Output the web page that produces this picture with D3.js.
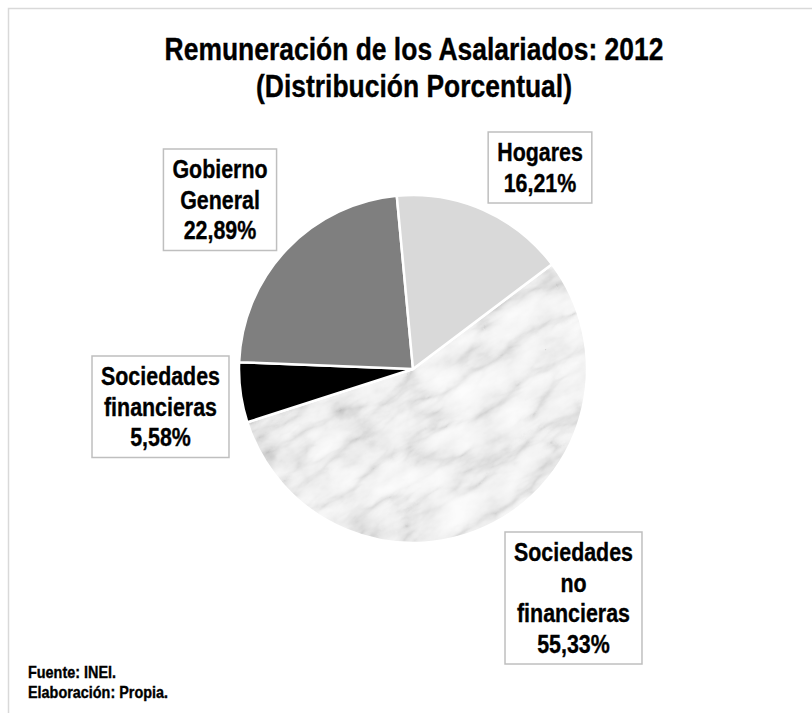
<!DOCTYPE html>
<html>
<head>
<meta charset="utf-8">
<script src="https://cdn.jsdelivr.net/npm/d3@7"></script>
<style>
  body { margin: 0; background: #fff; }
  svg text { font-family: 'Liberation Sans', Arial, sans-serif; font-weight: bold; fill: #000; stroke: #000; stroke-width: 0.35px; }
</style>
</head>
<body>
<div id="chart"></div>
<script>
// Data
const categorias = ["Sociedades no financieras", "Sociedades financieras", "Gobierno General", "Hogares"];
const porcentajes = [55.33, 5.58, 22.89, 16.21];
const etiquetas = [
    ["Sociedades", "no", "financieras"],
    ["Sociedades", "financieras"],
    ["Gobierno", "General"],
    ["Hogares"]
];
const colores = ["marble", "#000000", "#7f7f7f", "#d9d9d9"];
const titulo = ["Remuneración de los Asalariados: 2012", "(Distribución Porcentual)"];
const notas = ["Fuente: INEI.", "Elaboración: Propia."];

// Label box placement (center x, top y)
const cajas = [
    { cx: 573.5, top: 532 },
    { cx: 160.5, top: 356 },
    { cx: 220, top: 149 },
    { cx: 540, top: 132 }
];

const width = 812, height = 713;
const cx = 413, cy = 369, radius = 174;
const lineH = 30.5, pad = 5;
const narrow = 0.84; // Arial Narrow look

const svg = d3.select("#chart").append("svg")
    .attr("width", width)
    .attr("height", height);

// Chart area border (only top and left visible)
svg.append("path")
    .attr("d", `M8.5,${height} V8.5 H${width}`)
    .attr("fill", "none")
    .attr("stroke", "#d9d9d9")
    .attr("stroke-width", 1.5);

// Marble texture: soft clouds x thin veins
const defs = svg.append("defs");
const filter = defs.append("filter")
    .attr("id", "marmol");
filter.append("feTurbulence")
    .attr("type", "fractalNoise")
    .attr("baseFrequency", "0.02 0.035")
    .attr("numOctaves", 5)
    .attr("seed", 3)
    .attr("result", "nube");
filter.append("feColorMatrix")
    .attr("in", "nube")
    .attr("type", "matrix")
    .attr("values", "1 0 0 0 0  1 0 0 0 0  1 0 0 0 0  0 0 0 0 1")
    .attr("result", "nubeGris");
const ct1 = filter.append("feComponentTransfer").attr("in", "nubeGris").attr("result", "base");
["feFuncR", "feFuncG", "feFuncB"].forEach(f =>
    ct1.append(f).attr("type", "table")
        .attr("tableValues", "0.6 0.7 0.82 0.89 0.93 0.96 0.98 0.99"));
filter.append("feTurbulence")
    .attr("type", "turbulence")
    .attr("baseFrequency", "0.012 0.03")
    .attr("numOctaves", 4)
    .attr("seed", 11)
    .attr("result", "vena");
filter.append("feColorMatrix")
    .attr("in", "vena")
    .attr("type", "matrix")
    .attr("values", "1 0 0 0 0  1 0 0 0 0  1 0 0 0 0  0 0 0 0 1")
    .attr("result", "venaGris");
const ct2 = filter.append("feComponentTransfer").attr("in", "venaGris").attr("result", "venas");
["feFuncR", "feFuncG", "feFuncB"].forEach(f =>
    ct2.append(f).attr("type", "table")
        .attr("tableValues", "0.72 0.86 0.95 0.99 1 1 1 1"));
filter.append("feComposite")
    .attr("in", "base").attr("in2", "venas")
    .attr("operator", "arithmetic")
    .attr("k1", 1).attr("k2", 0).attr("k3", 0).attr("k4", 0);

const pie = d3.pie()
    .sort(null)
    .value(d => d)
    .startAngle(53 * Math.PI / 180)
    .endAngle(53 * Math.PI / 180 + 2 * Math.PI);

const arc = d3.arc().innerRadius(0).outerRadius(radius);
const arcs = pie(porcentajes);

const g = svg.append("g").attr("transform", `translate(${cx},${cy})`);

// Clip for marble slice
defs.append("clipPath").attr("id", "clipMarmol")
  .append("path")
    .attr("d", arc(arcs[0]));

g.append("g")
    .attr("clip-path", "url(#clipMarmol)")
  .append("rect")
    .attr("x", -radius - 60).attr("y", -radius - 60)
    .attr("width", 2 * radius + 120).attr("height", 2 * radius + 120)
    .attr("fill", "#eee")
    .attr("filter", "url(#marmol)")
    .attr("transform", "rotate(-30)");

g.selectAll(".slice")
    .data(arcs)
  .enter().append("path")
    .attr("class", "slice")
    .attr("d", arc)
    .attr("fill", (d, i) => colores[i] === "marble" ? "none" : colores[i])
    .attr("stroke", "#fff")
    .attr("stroke-width", 2.5)
    .attr("stroke-linejoin", "round");

// Multi-line narrow text centred at x
function textoNarrow(parent, x, lines, y0, step, size, anchor, sx = narrow) {
    const t = parent.append("text")
        .attr("transform", `translate(${x},0) scale(${sx},1)`)
        .attr("text-anchor", anchor)
        .style("font-size", size + "px");
    lines.forEach((l, j) => {
        t.append("tspan").attr("x", 0).attr("y", y0 + j * step).text(l);
    });
    return t;
}

// Title
textoNarrow(svg, 414, titulo, 60, 37, 31.5, "middle");

// Labels
cajas.forEach((c, i) => {
    const lines = etiquetas[i].concat([d3.format(".2f")(porcentajes[i]).replace(".", ",") + "%"]);
    const lg = svg.append("g");
    const box = lg.append("rect");
    const txt = textoNarrow(lg, c.cx, lines, c.top + pad + lineH / 2 + 9, lineH, 25.5, "middle");
    const w = txt.node().getBBox().width * narrow + 18;
    const h = lines.length * lineH + 2 * pad;
    box.attr("x", c.cx - w / 2)
        .attr("y", c.top)
        .attr("width", w)
        .attr("height", h)
        .attr("fill", "#fff")
        .attr("stroke", "#bfbfbf")
        .attr("stroke-width", 1.5);
});

// Footer
textoNarrow(svg, 28, notas, 678.5, 20, 16, "start", 0.9);
</script>
</body>
</html>
